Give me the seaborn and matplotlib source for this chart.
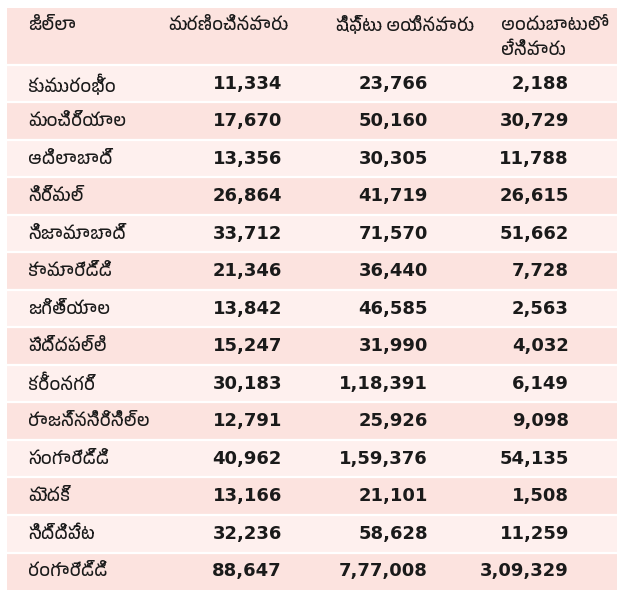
import numpy as np
import pandas as pd
import matplotlib
matplotlib.use("Agg")
import matplotlib.pyplot as plt
import seaborn as sns
from matplotlib import font_manager as fm
from matplotlib.colors import ListedColormap
from matplotlib.patches import Rectangle

# ---- data ----
headers = ["జిల్లా", "మరణించినవారు", "షిఫ్టు అయినవారు", "అందుబాటులో\nలేనివారు"]
districts = ["కుమురంభీం", "మంచిర్యాల", "ఆదిలాబాద్", "నిర్మల్", "నిజామాబాద్",
             "కామారెడ్డి", "జగిత్యాల", "పెద్దపల్లి", "కరీంనగర్", "రాజన్నసిరిసిల్ల",
             "సంగారెడ్డి", "మెదక్", "సిద్దిపేట", "రంగారెడ్డి"]
deaths = [11334, 17670, 13356, 26864, 33712, 21346, 13842, 15247, 30183,
          12791, 40962, 13166, 32236, 88647]
shifted = [23766, 50160, 30305, 41719, 71570, 36440, 46585, 31990, 118391,
           25926, 159376, 21101, 58628, 777008]
missing = [2188, 30729, 11788, 26615, 51662, 7728, 2563, 4032, 6149,
           9098, 54135, 1508, 11259, 309329]

df = pd.DataFrame({"district": districts, "deaths": deaths,
                   "shifted": shifted, "missing": missing})


def indian(n):
    # 1,18,391 style grouping
    s = str(n)
    if len(s) <= 3:
        return s
    head, tail = s[:-3], s[-3:]
    parts = []
    while len(head) > 2:
        parts.insert(0, head[-2:])
        head = head[:-2]
    if head:
        parts.insert(0, head)
    return ",".join(parts) + "," + tail


# ---- find a font that has Telugu glyphs ----
def find_font(ch):
    try:
        from fontTools.ttLib import TTFont
    except Exception:
        return None
    paths = sorted(fm.findSystemFonts(), key=lambda p: ("telugu" not in p.lower(), p))
    for p in paths:
        try:
            f = TTFont(p, fontNumber=0, lazy=True)
            cmap = f.getBestCmap()
            if cmap and ord(ch) in cmap:
                return p
        except Exception:
            continue
    return None


sns.set_theme(style="white")
tel_path = find_font("క")
if tel_path:
    fm.fontManager.addfont(tel_path)
    tel_family = fm.FontProperties(fname=tel_path).get_name()
else:
    tel_family = "Noto Sans"
plt.rcParams["font.family"] = [tel_family, "DejaVu Sans"]

HEADER_BG = "#fce3df"
LIGHT = "#fef0ee"
DARK = "#fce3df"
TXT = "#1a1a1a"

n = len(df)
W, H = 624, 596
fig = plt.figure(figsize=(W / 100, H / 100), dpi=100)
fig.patch.set_facecolor("white")
ax = fig.add_axes([7 / W, (H - 590) / H, 610 / W, 582 / H])

# row stripes through seaborn heatmap
stripes = pd.DataFrame({"bg": np.arange(n) % 2}, index=df["district"])
sns.heatmap(stripes, ax=ax, cmap=ListedColormap([LIGHT, DARK]), cbar=False,
            linewidths=0, xticklabels=False, yticklabels=False)

header_h = 57 / 37.5
ax.set_ylim(n, -header_h)
ax.add_patch(Rectangle((0, -header_h), 1, header_h, facecolor=HEADER_BG,
                       edgecolor="none", zorder=0.5))
for k in range(n):
    ax.axhline(k, color="white", lw=1.6, zorder=1)
ax.set_axis_off()

tr = ax.get_yaxis_transform()
tel_font = [tel_family, "DejaVu Sans"]

# header
hx = [0.0345, 0.2644, 0.5386, 0.8095]
for x, h in zip(hx, headers):
    for j, line in enumerate(h.split("\n")):
        y = -header_h + (17 + 25 * j) / 37.5
        ax.text(x, y, line, transform=tr, ha="left", va="center",
                fontsize=12.5, color=TXT, family=tel_font)

# body
num_x = [0.4508, 0.6902, 0.9213]
for i, row in df.iterrows():
    y = i + 0.5
    ax.text(0.0345, y, row["district"], transform=tr, ha="left", va="center",
            fontsize=12.5, color=TXT, family=tel_font)
    for x, col in zip(num_x, ["deaths", "shifted", "missing"]):
        ax.text(x, y, indian(row[col]), transform=tr, ha="right", va="center",
                fontsize=13, fontweight="bold", color=TXT, family="DejaVu Sans")

fig.savefig("out.png", dpi=100, facecolor="white")
